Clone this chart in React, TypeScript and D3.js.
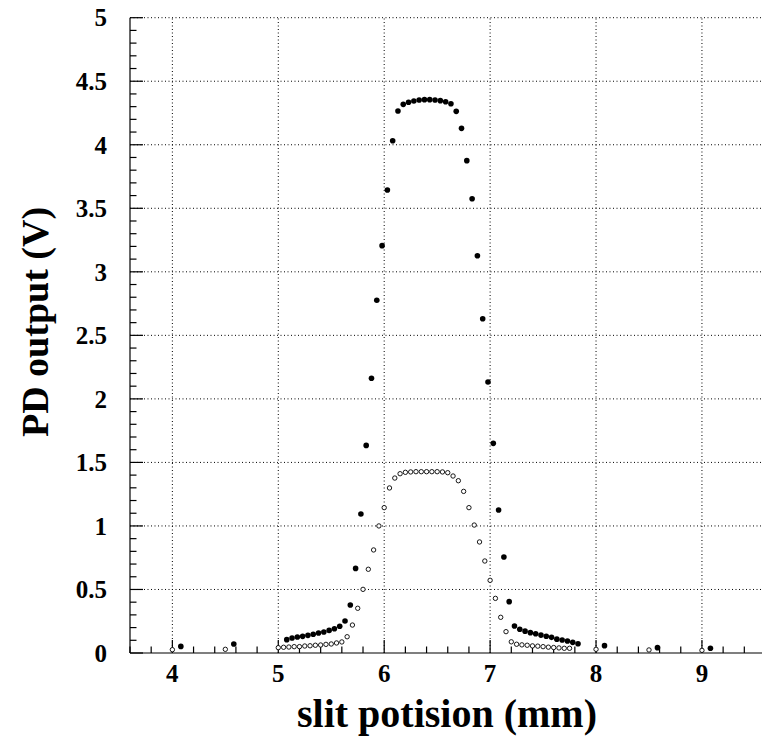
import React from "react";
import * as d3 from "d3";

// Filled markers (series 1)
const filledX = [4.08, 4.58,
  5.08, 5.13, 5.18, 5.23, 5.28, 5.33, 5.38, 5.43, 5.48, 5.53, 5.58, 5.63, 5.68, 5.73, 5.78, 5.83,
  5.88, 5.93, 5.98, 6.03, 6.08, 6.13, 6.18, 6.23, 6.28, 6.33, 6.38, 6.43, 6.48, 6.53, 6.58, 6.63,
  6.68, 6.73, 6.78, 6.83, 6.88, 6.93, 6.98, 7.03, 7.08, 7.13, 7.18, 7.23, 7.28, 7.33, 7.38, 7.43,
  7.48, 7.53, 7.58, 7.63, 7.68, 7.73, 7.78, 7.83,
  8.08, 8.58, 9.08];
const filledY = [0.052, 0.071,
  0.105, 0.118, 0.126, 0.131, 0.139, 0.147, 0.157, 0.165, 0.178, 0.191, 0.210, 0.252, 0.378, 0.666, 1.094, 1.634,
  2.162, 2.776, 3.206, 3.644, 4.032, 4.266, 4.318, 4.334, 4.344, 4.352, 4.355, 4.355, 4.352, 4.347, 4.339, 4.323,
  4.263, 4.129, 3.875, 3.575, 3.127, 2.631, 2.133, 1.650, 1.125, 0.756, 0.404, 0.212, 0.187, 0.172, 0.160, 0.151,
  0.141, 0.132, 0.123, 0.109, 0.102, 0.094, 0.084, 0.073,
  0.058, 0.042, 0.037];

// Open markers (series 2)
const openX = [4.0, 4.5,
  5.00, 5.05, 5.10, 5.15, 5.20, 5.25, 5.30, 5.35, 5.40, 5.45, 5.50, 5.55, 5.60,
  5.65, 5.70, 5.75, 5.80, 5.85, 5.90, 5.95, 6.00, 6.05, 6.10, 6.15, 6.20, 6.25, 6.30,
  6.35, 6.40, 6.45, 6.50, 6.55, 6.60, 6.65, 6.70, 6.75, 6.80, 6.85, 6.90, 6.95,
  7.00, 7.05, 7.10, 7.15, 7.20, 7.25, 7.30, 7.35, 7.40, 7.45, 7.50, 7.55, 7.60, 7.65, 7.70, 7.75,
  8.0, 8.5, 9.0];
const openY = [0.026, 0.029,
  0.042, 0.045, 0.047, 0.050, 0.050, 0.055, 0.057, 0.061, 0.063, 0.068, 0.071, 0.079, 0.087,
  0.128, 0.220, 0.352, 0.501, 0.659, 0.811, 1.000, 1.144, 1.299, 1.377, 1.411, 1.422, 1.425, 1.427,
  1.427, 1.427, 1.427, 1.427, 1.425, 1.419, 1.393, 1.356, 1.272, 1.144, 1.007, 0.874, 0.724,
  0.572, 0.430, 0.281, 0.168, 0.088, 0.069, 0.064, 0.061, 0.056, 0.054, 0.050, 0.046, 0.043, 0.040, 0.037, 0.037,
  0.029, 0.024, 0.021];

const xMajorTicks = [4, 5, 6, 7, 8, 9];
const xTickLabels = ["4", "5", "6", "7", "8", "9"];
const yMajorTicks = [0, 0.5, 1, 1.5, 2, 2.5, 3, 3.5, 4, 4.5, 5];
const yTickLabels = ["0", "0.5", "1", "1.5", "2", "2.5", "3", "3.5", "4", "4.5", "5"];

const xTitle = "slit potision (mm)";
const yTitle = "PD output (V)";

const W = 762;
const H = 737;
const FONT = "'Liberation Serif', 'Times New Roman', serif";

export default function App() {
  const x = d3.scaleLinear().domain([3.6, 9.6]).range([130, 765.5]);
  const y = d3.scaleLinear().domain([0, 5]).range([653, 17.7]);
  const [x0] = x.range();
  const [y0, y1] = y.range();

  const xMinor = d3.range(36, 97, 2).map((v) => v / 10).filter((v) => !xMajorTicks.some((m) => Math.abs(m - v) < 1e-6));
  const yMinor = d3.range(0, 51, 1).map((v) => v / 10).filter((v) => !yMajorTicks.some((m) => Math.abs(m - v) < 1e-6));

  return (
    <div style={{ position: "absolute", left: 0, top: 0 }}>
      <svg width={W} height={H} style={{ display: "block", background: "#fff" }} fontFamily={FONT}>
        {/* grid */}
        <g stroke="#000" strokeWidth={1} strokeDasharray="1,2.5">
          {xMajorTicks.map((t) => (
            <line key={"gx" + t} x1={x(t)} x2={x(t)} y1={y0} y2={y1} />
          ))}
          {yMajorTicks.filter((t) => t > 0).map((t) => (
            <line key={"gy" + t} x1={x0} x2={W} y1={y(t)} y2={y(t)} />
          ))}
        </g>
        {/* axes */}
        <g stroke="#000" strokeWidth={1.2} fill="none">
          <line x1={x0} x2={x0} y1={y0} y2={y1} />
          <line x1={x0} x2={W} y1={y0} y2={y0} />
          {xMajorTicks.map((t) => (
            <line key={"xt" + t} x1={x(t)} x2={x(t)} y1={y0} y2={y0 - 13} />
          ))}
          {xMinor.map((t) => (
            <line key={"xm" + t} x1={x(t)} x2={x(t)} y1={y0} y2={y0 - 6.5} />
          ))}
          {yMajorTicks.map((t) => (
            <line key={"yt" + t} x1={x0} x2={x0 + 13} y1={y(t)} y2={y(t)} />
          ))}
          {yMinor.map((t) => (
            <line key={"ym" + t} x1={x0} x2={x0 + 6.5} y1={y(t)} y2={y(t)} />
          ))}
        </g>
        {/* tick labels */}
        <g fontWeight="bold" fontSize={25} fill="#000">
          {xMajorTicks.map((t, i) => (
            <text key={"xl" + t} x={x(t)} y={682} textAnchor="middle">{xTickLabels[i]}</text>
          ))}
          {yMajorTicks.map((t, i) => (
            <text key={"yl" + t} x={107} y={y(t)} dy="0.35em" textAnchor="end">{yTickLabels[i]}</text>
          ))}
        </g>
        {/* titles */}
        <text x={447} y={727} textAnchor="middle" fontWeight="bold" fontSize={40}>{xTitle}</text>
        <text transform={`translate(48,${322}) rotate(-90)`} textAnchor="middle" fontWeight="bold" fontSize={38}>{yTitle}</text>
        {/* open markers */}
        <g fill="#fff" stroke="#000" strokeWidth={0.9}>
          {openX.map((v, i) => (
            <circle key={"o" + i} cx={x(v)} cy={y(openY[i])} r={2.2} />
          ))}
        </g>
        {/* filled markers */}
        <g fill="#000">
          {filledX.map((v, i) => (
            <circle key={"f" + i} cx={x(v)} cy={y(filledY[i])} r={2.8} />
          ))}
        </g>
      </svg>
    </div>
  );
}
